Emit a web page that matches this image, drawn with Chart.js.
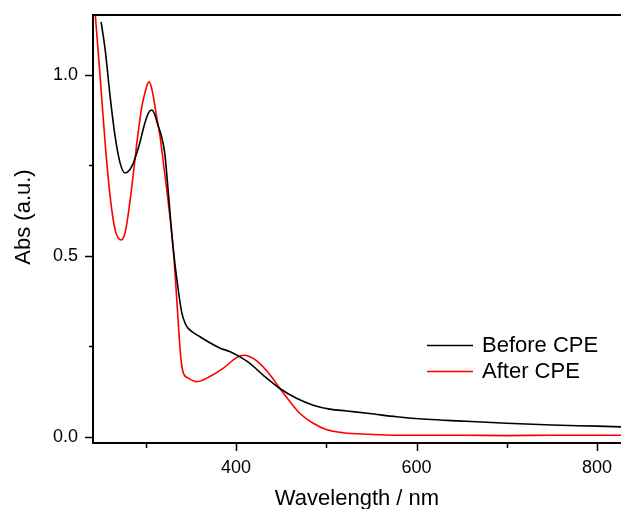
<!DOCTYPE html>
<html>
<head>
<meta charset="utf-8">
<script src="https://cdn.jsdelivr.net/npm/chart.js@4.4.1/dist/chart.umd.min.js"></script>
<style>
  body { margin: 0; background: #fff; }
  #wrap { width: 621px; height: 509px; position: relative; }
</style>
</head>
<body>
<div id="wrap"><canvas id="uvvis"></canvas></div>
<script>
// spectra (wavelength in nm, absorbance in a.u.)
const beforeWl = [250.5, 255, 260.5, 266, 271.5, 277, 284.5, 292, 299, 303, 306.5, 310, 313, 317, 321, 325, 330, 336, 340, 344, 347, 360, 382, 393, 401, 415, 430, 448.6, 467, 485.5, 504, 522.5, 548, 578, 611, 650, 700, 750, 800, 827]
const beforeAbs = [1.146, 1.069, 0.94, 0.83, 0.757, 0.729, 0.747, 0.80, 0.867, 0.895, 0.903, 0.89, 0.865, 0.834, 0.784, 0.674, 0.53, 0.406, 0.342, 0.312, 0.30, 0.277, 0.246, 0.236, 0.226, 0.204, 0.171, 0.134, 0.107, 0.088, 0.077, 0.072, 0.065, 0.056, 0.049, 0.044, 0.038, 0.033, 0.030, 0.028]

const afterWl = [242, 249.4, 255, 260.5, 266, 269.5, 272.7, 276, 279, 284.5, 290, 295.6, 299, 301.5, 303.6, 306, 308.4, 312, 315.8, 319.5, 325, 330.5, 332.4, 336, 338.7, 341.6, 347, 356.4, 371, 386, 397, 404, 410, 416, 423, 437.6, 448.6, 459.7, 470.8, 485.5, 500, 518.7, 548, 578, 650, 700, 750, 800, 827]
const afterAbs = [1.23, 0.995, 0.81, 0.664, 0.572, 0.55, 0.544, 0.555, 0.59, 0.69, 0.81, 0.912, 0.95, 0.972, 0.981, 0.968, 0.94, 0.885, 0.83, 0.757, 0.646, 0.517, 0.452, 0.315, 0.222, 0.177, 0.163, 0.153, 0.167, 0.19, 0.213, 0.224, 0.226, 0.221, 0.21, 0.172, 0.134, 0.098, 0.065, 0.038, 0.021, 0.012, 0.0075, 0.005, 0.005, 0.004, 0.005, 0.005, 0.005]

const seriesNames = ['Before CPE', 'After CPE']
const seriesColors = ['#000000', '#ff0000']

const xTicks = [300, 400, 500, 600, 700, 800]
const xLabelled = [400, 600, 800]
const yTicks = [0, 0.25, 0.5, 0.75, 1.0]
const yLabelled = [0, 0.5, 1.0]

const FONT = 'Liberation Sans, Arial, sans-serif'

const toPoints = (xs, ys) => xs.map((x, i) => ({ x: x, y: ys[i] }))

// frame, tick marks, y title and legend
const frame = {
  id: 'frame',
  afterDraw(chart) {
    const { ctx, chartArea: a, scales } = chart
    ctx.save()
    ctx.strokeStyle = '#000'
    ctx.lineWidth = 2
    ctx.beginPath()
    ctx.moveTo(a.left, a.top); ctx.lineTo(a.right, a.top)
    ctx.moveTo(a.left, a.top - 1); ctx.lineTo(a.left, a.bottom + 1)
    ctx.moveTo(a.left - 1, a.bottom); ctx.lineTo(a.right, a.bottom)
    ctx.stroke()

    ctx.lineWidth = 1.5
    ctx.beginPath()
    for (const t of scales.x.ticks) {
      const px = Math.round(scales.x.getPixelForValue(t.value)) + 0.5
      const len = xLabelled.includes(t.value) ? 8 : 5
      ctx.moveTo(px, a.bottom); ctx.lineTo(px, a.bottom + len)
    }
    for (const t of scales.y.ticks) {
      const py = Math.round(scales.y.getPixelForValue(t.value)) + 0.5
      const len = yLabelled.includes(t.value) ? 8 : 4
      ctx.moveTo(a.left, py); ctx.lineTo(a.left - len, py)
    }
    ctx.stroke()

    // y axis title
    ctx.fillStyle = '#000'
    ctx.font = '22px ' + FONT
    ctx.textAlign = 'center'
    ctx.textBaseline = 'middle'
    ctx.translate(24, 217)
    ctx.rotate(-Math.PI / 2)
    ctx.fillText('Abs (a.u.)', 0, 0)
    ctx.restore()

    // legend
    ctx.save()
    ctx.font = '22px ' + FONT
    ctx.textBaseline = 'middle'
    ctx.lineWidth = 1.5
    chart.data.datasets.forEach((ds, i) => {
      const y = 345.5 + i * 26
      ctx.strokeStyle = ds.borderColor
      ctx.beginPath()
      ctx.moveTo(427, y); ctx.lineTo(473, y)
      ctx.stroke()
      ctx.fillStyle = '#000'
      ctx.fillText(ds.label, 482, y)
    })
    ctx.restore()
  }
}

const noPad = (axis) => {
  axis.paddingLeft = 0
  axis.paddingRight = 0
  axis.paddingTop = 0
  axis.paddingBottom = 0
}

const ctx = document.getElementById('uvvis')

const chart = new Chart(ctx, {
  type: 'line',
  data: {
    datasets: [{
      label: seriesNames[0],
      data: toPoints(beforeWl, beforeAbs),
      borderColor: seriesColors[0],
      borderWidth: 1.6,
      pointRadius: 0,
      cubicInterpolationMode: 'monotone'
    }, {
      label: seriesNames[1],
      data: toPoints(afterWl, afterAbs),
      borderColor: seriesColors[1],
      borderWidth: 1.6,
      pointRadius: 0,
      cubicInterpolationMode: 'monotone'
    }]
  },
  options: {
    responsive: true,
    maintainAspectRatio: false,
    animation: false,
    layout: { padding: { top: 15, right: 0, left: 0, bottom: 0 } },
    plugins: { legend: { display: false }, tooltip: { enabled: false } },
    scales: {
      x: {
        type: 'linear',
        min: 241.5,
        max: 826.6,
        afterBuildTicks: (axis) => { axis.ticks = xTicks.map(v => ({ value: v })) },
        afterFit: (axis) => { axis.height = 66; noPad(axis) },
        grid: { display: false, drawTicks: false },
        border: { display: false },
        ticks: {
          padding: 14,
          color: '#000',
          font: { family: FONT, size: 18 },
          maxRotation: 0,
          autoSkip: false,
          callback: (v) => xLabelled.includes(v) ? String(v) : ''
        },
        title: {
          display: true,
          text: 'Wavelength / nm',
          color: '#000',
          font: { family: FONT, size: 22, lineHeight: 0.95 },
          padding: { top: 0, bottom: 0 }
        }
      },
      y: {
        min: -0.0165,
        max: 1.1653,
        afterBuildTicks: (axis) => { axis.ticks = yTicks.map(v => ({ value: v })) },
        afterFit: (axis) => { axis.width = 93; noPad(axis) },
        grid: { display: false, drawTicks: false },
        border: { display: false },
        ticks: {
          padding: 15,
          color: '#000',
          font: { family: FONT, size: 18 },
          autoSkip: false,
          callback: (v) => yLabelled.includes(v) ? v.toFixed(1) : ''
        }
      }
    }
  },
  plugins: [frame]
})
</script>
</body>
</html>
